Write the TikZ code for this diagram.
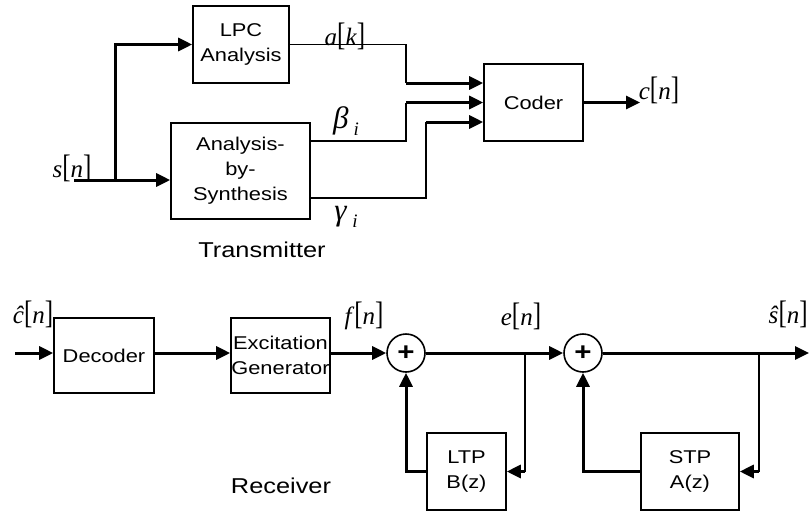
\documentclass[tikz,border=0pt]{standalone}
\usepackage{graphicx}
\usepackage{fontspec}
\setmainfont{Liberation Sans}[FakeStretch=1.18]
\newfontfamily\myserif{Liberation Serif}
\usetikzlibrary{arrows.meta,calc}
\newcommand\myboxfont{\fontsize{18.5}{25}\selectfont}
\newcommand\mytitlefont{\fontsize{21.5}{26}\selectfont}
\newcommand\mylabfont{\myserif\fontsize{25}{28}\selectfont}
\newcommand\mygreekfont{\myserif\fontsize{31}{32}\selectfont}
\newcommand\myplusfont{\fontsize{25}{25}\selectfont\bfseries}
\newcommand\mysq[2]{\textit{#1}\scalebox{1}[1.3]{[}\textit{#2}\scalebox{1}[1.3]{]}}
\newcommand\mysub[2]{\textit{#1}\,\raisebox{-7pt}{\fontsize{19}{19}\selectfont\textit{#2}}}
\tikzset{
  blk/.style={draw, line width=1.6pt, inner sep=0pt, align=center, font=\myboxfont},
  sumc/.style={draw, circle, line width=1.6pt, minimum size=38pt, inner sep=0pt, font=\myplusfont},
  wire/.style={line width=1.6pt},
  bus/.style={line width=3pt},
  arr/.style={-{Triangle[length=14pt,width=13pt]}},
  lab/.style={inner sep=0pt, font=\mylabfont},
  glab/.style={inner sep=0pt, font=\mygreekfont},
  ttl/.style={inner sep=0pt, font=\mytitlefont}
}
\begin{document}
\begin{tikzpicture}[x=1pt,y=-1pt]
\fill[white] (0,0) rectangle (809,512);
\useasboundingbox (0,0) rectangle (809,512);

% ---------- Transmitter ----------
\node[blk, minimum width=96pt, minimum height=77pt] (lpc) at (241,44.5) {LPC\\Analysis};
\node[blk, minimum width=139pt, minimum height=96pt] (abs) at (240.5,171) {Analysis-\\by-\\Synthesis};
\node[blk, minimum width=99pt, minimum height=77pt] (coder) at (533.5,102.5) {Coder};

\coordinate (sin) at (74,180);
\coordinate (br) at (115,180);
\draw[bus,arr] (sin) -- (abs.west |- sin);
\draw[bus,arr] (br) |- (lpc.west);

\coordinate (colA) at (406,0);
\coordinate (colG) at (426,0);
\coordinate (ca) at ([yshift=19.5pt]coder.west);
\coordinate (cc) at ([yshift=-19.5pt]coder.west);
\coordinate (ob) at ([yshift=30pt]abs.east);
\coordinate (og) at ([yshift=-27pt]abs.east);

\draw[wire] (lpc.east) -| (colA |- ca);
\draw[bus,arr] (colA |- ca) -- (ca);
\draw[wire] (ob) -| (colA |- coder.west);
\draw[bus,arr] (colA |- coder.west) -- (coder.west);
\draw[wire] (og) -| (colG |- cc);
\draw[bus,arr] (colG |- cc) -- (cc);

\coordinate (cout) at (640,102.5);
\draw[bus,arr] (coder.east) -- (cout);

\node[lab] (lsn) at (72,168) {\mysq{s}{n}};
\node[lab] (lak) at (345,36) {\mysq{a}{k}};
\node[glab] (lbeta) at (346,121) {\mysub{β}{i}};
\node[glab] (lgamma) at (346,217) {\mysub{γ}{i}};
\node[lab] (lcn) at (659,90) {\mysq{c}{n}};
\node[ttl] (ttx) at (262,250) {Transmitter};

% ---------- Receiver ----------
\node[blk, minimum width=100pt, minimum height=75pt] (dec) at (104,355.5) {Decoder};
\node[blk, minimum width=99pt, minimum height=75pt] (exc) at (280.5,355.5) {Excitation\\Generator};
\node[sumc] (s1) at (406,353) {+};
\node[sumc] (s2) at (583,353) {+};
\node[blk, minimum width=79pt, minimum height=77pt] (ltp) at (466.5,471.5) {LTP\\B(z)};
\node[blk, minimum width=98pt, minimum height=77pt] (stp) at (690,471.5) {STP\\A(z)};

\coordinate (main) at (0,353);
\coordinate (rin) at (15,353);
\coordinate (rout) at (809,353);
\coordinate (t1) at (525,353);
\coordinate (t2) at (759,353);

\draw[bus,arr] (rin) -- (dec.west |- main);
\draw[bus,arr] (dec.east |- main) -- (exc.west |- main);
\draw[bus,arr] (exc.east |- main) -- (s1.west);
\draw[bus,arr] (s1.east) -- (s2.west);
\draw[bus,arr] (s2.east) -- (rout);

\draw[wire] (t1) -- (t1 |- ltp.east);
\draw[bus,arr] (t1 |- ltp.east) -- (ltp.east);
\draw[bus,arr] (ltp.west) -| (s1.south);

\draw[wire] (t2) -- (t2 |- stp.east);
\draw[bus,arr] (t2 |- stp.east) -- (stp.east);
\draw[bus,arr] (stp.west) -| (s2.south);

\node[lab] (lchat) at (33,314) {\mysq{ĉ}{n}};
\node[lab] (lfn) at (364,316) {\mysq{f}{n}};
\node[lab] (len) at (521,316) {\mysq{e}{n}};
\node[lab, anchor=east] (lshat) at (808,314) {\mysq{ŝ}{n}};
\node[ttl] (trx) at (281,486) {Receiver};
\end{tikzpicture}
\end{document}
